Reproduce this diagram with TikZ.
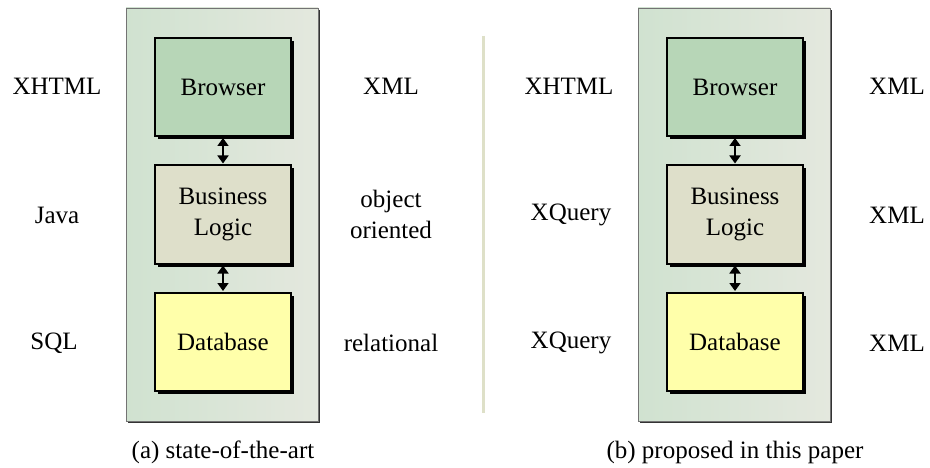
\documentclass[tikz,border=0pt]{standalone}
\usepackage{fontspec}
\setmainfont{Liberation Serif}
\usetikzlibrary{arrows.meta,shadows}
\definecolor{panelL}{RGB}{208,226,208}
\definecolor{panelR}{RGB}{228,232,222}
\definecolor{browserC}{RGB}{183,214,183}
\definecolor{logicC}{RGB}{222,223,202}
\definecolor{dbC}{RGB}{255,255,170}
\definecolor{sepC}{RGB}{222,224,200}
\tikzset{
  panel/.style={draw=black!55, line width=0.8pt, left color=panelL, right color=panelR,
    minimum width=192pt, minimum height=413pt, inner sep=0pt,
    drop shadow={shadow xshift=2pt, shadow yshift=-2pt, fill=black!80, opacity=1}},
  tier/.style={draw=black, line width=2pt, minimum width=136pt, minimum height=98pt,
    inner sep=0pt, align=center, font=\fontsize{25}{31}\selectfont,
    drop shadow={shadow xshift=3pt, shadow yshift=-3pt, fill=black, opacity=1}},
  lbl/.style={font=\fontsize{25}{31}\selectfont, align=center, inner sep=0pt},
  link/.style={{Triangle[length=8pt,width=11pt]}-{Triangle[length=8pt,width=11pt]}, line width=1.8pt, shorten <=1pt, shorten >=1pt},
}
\begin{document}
\begin{tikzpicture}[x=1pt,y=-1pt]
\useasboundingbox[fill=white] (0,0) rectangle (930,468);
% separator
\draw[sepC, line width=3pt] (483,36) coordinate (s1) -- (483,413) coordinate (s2);
% left panel
\node[panel] (pa) at (222,214.5) {};
\node[tier, fill=browserC] (ba) at (223,87) {Browser};
\node[tier, fill=logicC] (la) at (223,214.5) {Business\\Logic};
\node[tier, fill=dbC] (da) at (223,342) {Database};
\draw[link] (ba.south) -- (la.north);
\draw[link] (la.south) -- (da.north);
\node[lbl] (xa1) at (57,86) {XHTML};
\node[lbl] (xa2) at (57,215) {Java};
\node[lbl] (xa3) at (54,343) {SQL};
\node[lbl] (ya1) at (391,86) {XML};
\node[lbl] (ya2) at (391,214) {object\\oriented};
\node[lbl] (ya3) at (391,343) {relational};
\node[lbl] (ca) at (223,452) {(a) state-of-the-art};
% right panel
\node[panel] (pb) at (734,214.5) {};
\node[tier, fill=browserC] (bb) at (735,87) {Browser};
\node[tier, fill=logicC] (lb) at (735,214.5) {Business\\Logic};
\node[tier, fill=dbC] (db) at (735,342) {Database};
\draw[link] (bb.south) -- (lb.north);
\draw[link] (lb.south) -- (db.north);
\node[lbl] (xb1) at (569,86) {XHTML};
\node[lbl] (xb2) at (571,215) {XQuery};
\node[lbl] (xb3) at (571,343) {XQuery};
\node[lbl] (yb1) at (897,86) {XML};
\node[lbl] (yb2) at (897,215) {XML};
\node[lbl] (yb3) at (897,343) {XML};
\node[lbl] (cb) at (735,452) {(b) proposed in this paper};
\end{tikzpicture}
\end{document}
